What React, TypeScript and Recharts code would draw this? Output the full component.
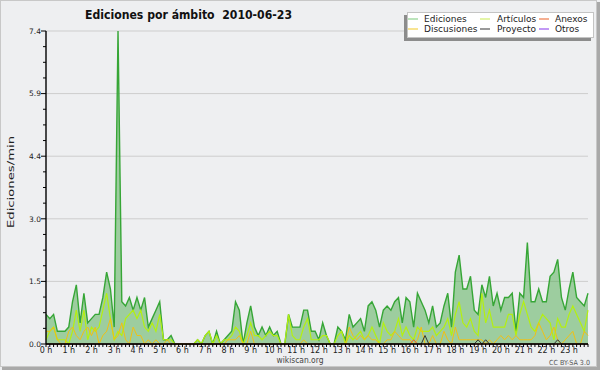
import { ComposedChart, Area, Line, XAxis, YAxis, CartesianGrid } from 'recharts';

// 10-minute slots, 0:00 .. 23:50, values in edits per minute
const hourLabels = [
  '0 h', '1 h', '2 h', '3 h', '4 h', '5 h', '6 h', '7 h', '8 h', '9 h', '10 h', '11 h',
  '12 h', '13 h', '14 h', '15 h', '16 h', '17 h', '18 h', '19 h', '20 h', '21 h', '22 h', '23 h',
];

const ediciones = [
  0.7, 0.6, 0.7, 0.3, 0.3, 0.3, 0.4, 1.0, 1.4, 0.5, 1.2, 0.5,
  0.6, 0.7, 0.7, 1.1, 1.7, 1.3, 0.4, 7.4, 1.0, 0.9, 1.1, 0.8,
  1.1, 0.8, 1.1, 0.4, 0.6, 0.8, 1.0, 0.1, 0.1, 0.2, 0, 0,
  0, 0, 0, 0, 0.1, 0, 0.2, 0.3, 0, 0.3, 0, 0.1,
  0.2, 0.3, 1.0, 0.8, 0, 0.5, 0.9, 0.4, 0.2, 0.4, 0.2, 0.4,
  0.2, 0.3, 0, 0, 0.7, 0.4, 0.4, 0.4, 0.8, 0.8, 0.3, 0.3,
  0.1, 0.5, 0.2, 0, 0, 0.4, 0.3, 0.1, 0.7, 0.4, 0.5, 0.6,
  0.3, 0.9, 1.0, 0.8, 0.4, 0.8, 0.9, 0.8, 1.0, 1.1, 0.5, 1.1,
  1.0, 0.4, 1.2, 1.0, 0.8, 0.5, 0.9, 0.4, 0.5, 0.9, 1.2, 0.4,
  1.7, 2.1, 1.3, 1.3, 1.6, 0.8, 0.7, 1.4, 1.1, 1.6, 0.9, 1.2,
  0.8, 1.1, 1.1, 1.2, 0.3, 1.2, 1.1, 2.4, 1.0, 1.0, 1.3, 1.0,
  1.0, 1.6, 1.7, 2.0, 1.1, 0.8, 1.3, 1.7, 1.1, 1.0, 0.9, 1.2,
];

const articulos = [
  0.1, 0.3, 0.4, 0.1, 0.1, 0.1, 0, 0.3, 0.8, 0.3, 0.8, 0.1,
  0.4, 0.3, 0.4, 0.8, 1.2, 0.6, 0.1, 0.3, 0.2, 0.6, 0.7, 0.8,
  0.6, 0.8, 0.4, 0.3, 0.5, 0.3, 0.7, 0.1, 0.1, 0.1, 0, 0,
  0, 0, 0, 0, 0.1, 0, 0.2, 0.3, 0, 0.2, 0, 0.1,
  0.1, 0.2, 0.4, 0.3, 0, 0.2, 0.5, 0.2, 0.2, 0.1, 0.2, 0.3,
  0.2, 0.2, 0, 0, 0.7, 0.2, 0.1, 0.1, 0.4, 0.6, 0.1, 0.1,
  0.1, 0.2, 0.2, 0, 0, 0.2, 0.3, 0, 0.2, 0.1, 0.2, 0.3,
  0.1, 0.2, 0.4, 0.2, 0, 0.5, 0.3, 0.2, 0.3, 0.6, 0.2, 0.4,
  0.2, 0.1, 0.4, 0.3, 0.3, 0.3, 0.4, 0.2, 0.3, 0.4, 0.6, 0.2,
  0.7, 1.0, 0.5, 0.4, 0.6, 0.3, 0.2, 1.2, 0.5, 0.8, 0.4, 0.4,
  0.4, 0.4, 0.7, 0.7, 0.2, 0.7, 1.0, 0.7, 0.4, 0.3, 0.5, 0.7,
  0.6, 0.5, 0.1, 0.6, 0.4, 0.4, 0.7, 0.9, 0.7, 0.5, 0.3, 0.8,
];

const discusiones = [
  0.3, 0.3, 0.4, 0.1, 0, 0, 0.3, 0.4, 0.2, 0.1, 0.3, 0.4,
  0.2, 0.4, 0, 0.2, 0.3, 0.6, 0.1, 0.2, 0.5, 0.1, 0, 0.4,
  0.2, 0.2, 0, 0.1, 0, 0.1, 0, 0, 0.1, 0, 0, 0,
  0, 0, 0, 0, 0, 0, 0, 0, 0, 0, 0, 0,
  0.1, 0.1, 0.1, 0.2, 0, 0, 0.3, 0, 0, 0, 0, 0,
  0, 0, 0, 0, 0, 0, 0, 0, 0.1, 0, 0, 0,
  0, 0, 0, 0, 0, 0, 0, 0, 0.4, 0.2, 0.1, 0.2,
  0.1, 0.2, 0.1, 0.1, 0, 0, 0.1, 0.1, 0.3, 0.2, 0.1, 0.1,
  0.1, 0, 0.1, 0.4, 0, 0, 0.2, 0, 0, 0.3, 0.1, 0,
  0.4, 0.1, 0.1, 0.1, 0.1, 0.1, 0.1, 0.1, 0, 0.1, 0, 0.1,
  0.2, 0.1, 0.2, 0.1, 0.2, 0.1, 0.1, 0.1, 0.1, 0.2, 0.5, 0.3,
  0.1, 0.2, 0.4, 0.1, 0, 0.1, 0.2, 0.3, 0, 0, 0.3, 0.2,
];

const proyecto = [
  0, 0, 0, 0, 0, 0, 0, 0, 0, 0, 0, 0,
  0, 0, 0, 0, 0, 0, 0, 0, 0, 0, 0, 0,
  0, 0, 0, 0, 0, 0, 0, 0, 0, 0, 0, 0,
  0, 0, 0, 0, 0, 0, 0, 0, 0, 0, 0, 0,
  0, 0, 0, 0, 0, 0, 0, 0, 0, 0, 0, 0,
  0, 0, 0, 0, 0, 0, 0, 0, 0, 0, 0, 0,
  0, 0, 0, 0, 0, 0, 0, 0, 0, 0, 0, 0,
  0, 0, 0, 0, 0, 0, 0, 0, 0, 0, 0, 0,
  0, 0, 0, 0, 0.2, 0, 0, 0, 0, 0, 0, 0,
  0, 0, 0, 0, 0, 0, 0.1, 0, 0.1, 0, 0, 0,
  0, 0, 0, 0, 0, 0, 0, 0, 0, 0, 0, 0,
  0, 0, 0, 0.1, 0, 0, 0, 0, 0, 0, 0, 0,
];

const anexos = [
  0, 0, 0, 0, 0, 0, 0, 0, 0, 0, 0, 0,
  0, 0, 0, 0, 0, 0, 0, 0, 0, 0, 0, 0,
  0, 0, 0, 0, 0, 0, 0, 0, 0, 0, 0, 0,
  0, 0, 0, 0, 0, 0, 0, 0, 0, 0, 0, 0,
  0, 0, 0, 0, 0, 0, 0, 0, 0, 0, 0, 0,
  0, 0, 0, 0, 0, 0, 0, 0, 0, 0, 0, 0,
  0, 0, 0, 0, 0, 0, 0, 0, 0, 0, 0, 0,
  0, 0, 0, 0, 0, 0, 0, 0, 0, 0, 0, 0,
  0, 0.1, 0, 0, 0, 0, 0, 0, 0, 0, 0, 0,
  0, 0, 0, 0, 0, 0, 0, 0, 0, 0, 0, 0,
  0, 0, 0, 0, 0, 0, 0, 0, 0, 0, 0, 0,
  0, 0, 0, 0, 0, 0, 0, 0, 0, 0, 0, 0,
];

// labelled ticks, and the three small ticks between each pair
const yMajor = [0, 1.48, 2.96, 4.44, 5.92, 7.4];
const yMajorLabels = ['0.0', '1.5', '3.0', '4.4', '5.9', '7.4'];
const yAllTicks = [
  0, 0.37, 0.74, 1.11, 1.48, 1.85, 2.22, 2.59, 2.96, 3.33, 3.7,
  4.07, 4.44, 4.81, 5.18, 5.55, 5.92, 6.29, 6.66, 7.03, 7.4,
];

const legendItems = [
  { name: 'Ediciones', color: '#8fd28f', col: 0, row: 0 },
  { name: 'Artículos', color: '#d2ee6e', col: 1, row: 0 },
  { name: 'Anexos', color: '#ee7a4a', col: 2, row: 0 },
  { name: 'Discusiones', color: '#f4d24a', col: 0, row: 1 },
  { name: 'Proyecto', color: '#555555', col: 1, row: 1 },
  { name: 'Otros', color: '#9a55ee', col: 2, row: 1 },
];

const rows = ediciones.map((v, i) => ({
  slot: i,
  ediciones: v,
  articulos: articulos[i],
  discusiones: discusiones[i],
  proyecto: proyecto[i],
  anexos: anexos[i],
}));

const FONT = '"DejaVu Sans", Verdana, sans-serif';

function XTick({ x, y, payload }: any) {
  if (payload.value % 6 !== 0) return <g />;
  return (
    <text x={x} y={y + 6} textAnchor="middle" fontSize={8} fontFamily={FONT} fill="#222">
      {hourLabels[payload.value / 6]}
    </text>
  );
}

function YTick({ x, y, payload }: any) {
  const k = yMajor.findIndex((v) => Math.abs(v - Number(payload.value)) < 1e-6);
  if (k < 0) {
    return <line x1={x - 3} x2={x} y1={y} y2={y} stroke="#000" />;
  }
  return (
    <g>
      <line x1={x - 5} x2={x} y1={y} y2={y} stroke="#000" />
      <text x={x - 5} y={y + 2.7} textAnchor="end" fontSize={7.5} fontFamily={FONT} fill="#222">
        {yMajorLabels[k]}
      </text>
    </g>
  );
}

const colX = [408, 480, 539];
const textX = [424, 497, 555];
const rowY = [19, 29];

export default function App() {
  return (
    <div style={{ position: 'absolute', left: 0, top: 0, width: 600, height: 370, background: '#eeeff1' }}>
      <ComposedChart width={600} height={370} data={rows} margin={{ top: 31, right: 12, bottom: 0, left: 0 }}>
        <CartesianGrid vertical={false} horizontalValues={yMajor} stroke="#cdcdcd" />
        <Area
          type="linear"
          dataKey="ediciones"
          stroke="#36a636"
          strokeWidth={1.4}
          fill="#45a845"
          fillOpacity={0.48}
          isAnimationActive={false}
        />
        <Line type="linear" dataKey="articulos" stroke="#b4f010" strokeWidth={1.2} dot={false} isAnimationActive={false} />
        <Line type="linear" dataKey="discusiones" stroke="#f2c012" strokeWidth={1} dot={false} isAnimationActive={false} />
        <Line type="linear" dataKey="anexos" stroke="#e8572a" strokeWidth={1} dot={false} isAnimationActive={false} />
        <Line type="linear" dataKey="proyecto" stroke="#333333" strokeWidth={1} dot={false} isAnimationActive={false} />
        <XAxis
          dataKey="slot"
          interval={0}
          height={26}
          tickSize={3}
          tickMargin={0}
          tickLine={{ stroke: '#000' }}
          axisLine={{ stroke: '#000', strokeWidth: 1.6 }}
          tick={<XTick />}
        />
        <YAxis
          type="number"
          domain={[0, 7.4]}
          ticks={yAllTicks}
          interval={0}
          width={46}
          tickSize={0}
          tickMargin={0}
          tickLine={false}
          axisLine={{ stroke: '#000', strokeWidth: 1.4 }}
          tick={<YTick />}
        />
      </ComposedChart>
      <svg width={600} height={370} style={{ position: 'absolute', left: 0, top: 0, pointerEvents: 'none' }}>
        <rect x={0.5} y={0.5} width={596} height={366} fill="none" stroke="#c8c8c8" />
        <rect x={597} y={2} width={3} height={368} fill="#a9a9a9" />
        <rect x={2} y={367} width={598} height={3} fill="#a9a9a9" />
        <text x={85} y={18.5} fontSize={12.5} fontWeight="bold" fontFamily={FONT} fill="#111" textLength={207} lengthAdjust="spacingAndGlyphs" style={{ whiteSpace: 'pre' }}>
          {'Ediciones por ámbito  2010-06-23'}
        </text>
        <text
          transform="translate(13.5,182) rotate(-90)"
          textAnchor="middle"
          fontSize={9.5}
          fontFamily={FONT}
          fill="#222"
          textLength={92}
          lengthAdjust="spacingAndGlyphs"
        >
          Ediciones/min
        </text>
        <rect x={404} y={15} width={187} height={26} fill="#8c8c8c" />
        <rect x={407.5} y={12.5} width={186} height={25} fill="#fff" stroke="#c4c4c4" />
        {legendItems.map((it) => (
          <g key={it.name}>
            <line x1={colX[it.col]} x2={colX[it.col] + 10} y1={rowY[it.row]} y2={rowY[it.row]} stroke={it.color} strokeWidth={1.2} />
            <text x={textX[it.col]} y={rowY[it.row] + 3.3} fontSize={9} fontFamily={FONT} fill="#222">
              {it.name}
            </text>
          </g>
        ))}
        <text x={300} y={363} textAnchor="middle" fontSize={8.5} fontFamily={FONT} fill="#444" textLength={47} lengthAdjust="spacingAndGlyphs">
          wikiscan.org
        </text>
        <text x={590} y={365} textAnchor="end" fontSize={7} fontFamily={FONT} fill="#555" textLength={41} lengthAdjust="spacingAndGlyphs">
          CC BY-SA 3.0
        </text>
      </svg>
    </div>
  );
}
